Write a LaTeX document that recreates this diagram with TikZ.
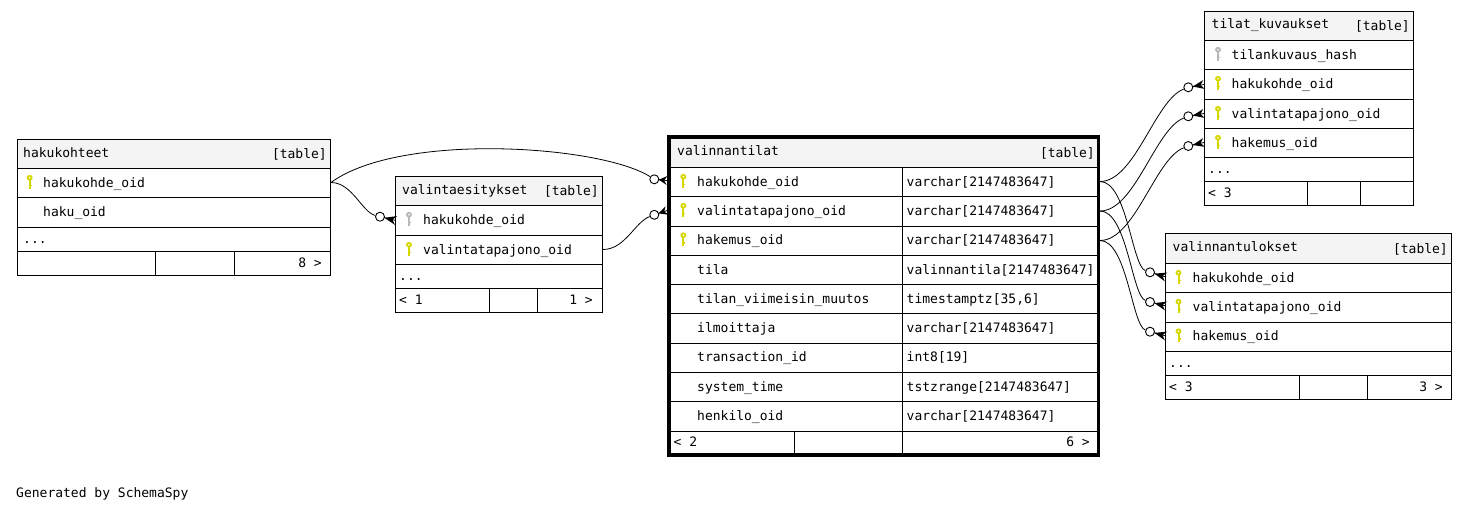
\documentclass[tikz,border=0pt]{standalone}
\usepackage{fontspec}
\setmainfont{DejaVu Sans Mono}
\usetikzlibrary{calc}
\definecolor{hdr}{HTML}{F4F4F4}
\definecolor{pk}{RGB}{215,215,0}
\definecolor{fk}{HTML}{B8B8B8}
\newcommand\tkey[3]{%
  \fill[#3] (#1,#2+9.2) ellipse (3pt and 2.8pt);
  \fill[#3] (#1-1,#2+10) rectangle (#1+1,#2+20);
  \fill[#3] (#1+1,#2+16) rectangle (#1+2,#2+17.5);
  \fill[white] (#1,#2+9.2) circle (0.9pt);
}
\newcommand\crowfoot[2]{%
  \fill ($(#1)!4.5pt!(#2)$) -- ($(#2)!4.5pt!90:(#1)$) -- ($(#1)!0.78!(#2)$) -- ($(#2)!4.5pt!-90:(#1)$) -- cycle;
  \draw[line width=0.8pt] ($(#1)!4.5pt!(#2)$) -- (#2);
}
\tikzset{
  cell/.style={draw=black, line width=1pt},
  txt/.style={inner sep=0pt, anchor=base west, font=\fontsize{13}{15}\selectfont},
  txtr/.style={txt, anchor=base east},
  ring/.style={circle, draw=black, line width=0.9pt, fill=white, minimum size=9pt, inner sep=0pt},
  rel/.style={line width=0.8pt},
}
\begin{document}
\begin{tikzpicture}[x=1pt,y=-1pt]
\useasboundingbox[fill=white] (0,0) rectangle (1467,512);

% ---------------- hakukohteet
\fill[hdr] (17.5,139.5) rectangle (330.5,168.5);
\draw[cell] (17.5,139.5) rectangle (330.5,275.5);
\draw[cell] (17.5,168.5)--(330.5,168.5) (17.5,197.5)--(330.5,197.5)
  (17.5,227.5)--(330.5,227.5) (17.5,251.5)--(330.5,251.5)
  (155.5,251.5)--(155.5,275.5) (234.5,251.5)--(234.5,275.5);
\node[txt] (hkT) at (23,157) {hakukohteet};
\node[txtr] (hkTt) at (327,158.5) {[table]};
\tkey{29.7}{168.5}{pk}
\node[txt] (hkA) at (43,187) {hakukohde\_oid};
\node[txt] (hkB) at (43,216.5) {haku\_oid};
\node[txt] (hkD) at (23,243.5) {...};
\node[txtr] (hkF) at (322,267) {8 >};
\coordinate (hkR) at (331,182.5);

% ---------------- valintaesitykset
\fill[hdr] (395.5,176.5) rectangle (602.5,205.5);
\draw[cell] (395.5,176.5) rectangle (602.5,312.5);
\draw[cell] (395.5,205.5)--(602.5,205.5) (395.5,235.5)--(602.5,235.5)
  (395.5,264.5)--(602.5,264.5) (395.5,288.5)--(602.5,288.5)
  (489.5,288.5)--(489.5,312.5) (537.5,288.5)--(537.5,312.5);
\node[txt] (veT) at (402,194) {valintaesitykset};
\node[txtr] (veTt) at (599,195.5) {[table]};
\tkey{409}{205.5}{fk}
\node[txt] (veA) at (423,224.5) {hakukohde\_oid};
\tkey{409}{235.5}{pk}
\node[txt] (veB) at (423,254) {valintatapajono\_oid};
\node[txt] (veD) at (399,280.5) {...};
\node[txt] (veF1) at (399,304.5) {< 1};
\node[txtr] (veF2) at (593,304.5) {1 >};
\coordinate (veR) at (603,249.5);

% ---------------- valinnantilat
\fill[hdr] (670.5,138.5) rectangle (1096.5,167.5);
\draw[cell] (670.5,167.5)--(1096.5,167.5) (670.5,196.5)--(1096.5,196.5)
  (670.5,226)--(1096.5,226) (670.5,255.5)--(1096.5,255.5)
  (670.5,284.5)--(1096.5,284.5) (670.5,313.5)--(1096.5,313.5)
  (670.5,343)--(1096.5,343) (670.5,372.5)--(1096.5,372.5)
  (670.5,401.5)--(1096.5,401.5) (670.5,431)--(1096.5,431)
  (902.5,167.5)--(902.5,453) (794.5,431)--(794.5,453);
\draw[line width=3.6pt] (668.7,136.7) rectangle (1098.3,455);
\node[txt] (vtT) at (677,155) {valinnantilat};
\node[txtr] (vtTt) at (1095,157) {[table]};
\tkey{683.3}{167.5}{pk}
\tkey{683.3}{196.5}{pk}
\tkey{683.3}{226}{pk}
\node[txt] (vt1) at (697,186) {hakukohde\_oid};
\node[txt] (vt2) at (697,215.3) {valintatapajono\_oid};
\node[txt] (vt3) at (697,244.8) {hakemus\_oid};
\node[txt] (vt4) at (697,274) {tila};
\node[txt] (vt5) at (697,303) {tilan\_viimeisin\_muutos};
\node[txt] (vt6) at (697,332.3) {ilmoittaja};
\node[txt] (vt7) at (697,361.8) {transaction\_id};
\node[txt] (vt8) at (697,391) {system\_time};
\node[txt] (vt9) at (697,420.3) {henkilo\_oid};
\node[txt] (vu1) at (906.5,186) {varchar[2147483647]};
\node[txt] (vu2) at (906.5,215.3) {varchar[2147483647]};
\node[txt] (vu3) at (906.5,244.8) {varchar[2147483647]};
\node[txt] (vu4) at (906.5,274) {valinnantila[2147483647]};
\node[txt] (vu5) at (906.5,303) {timestamptz[35,6]};
\node[txt] (vu6) at (906.5,332.3) {varchar[2147483647]};
\node[txt] (vu7) at (906.5,361.8) {int8[19]};
\node[txt] (vu8) at (906.5,391) {tstzrange[2147483647]};
\node[txt] (vu9) at (906.5,420.3) {varchar[2147483647]};
\node[txt] (vtF1) at (673.5,446.5) {< 2};
\node[txtr] (vtF2) at (1090,446.5) {6 >};
\coordinate (vtR1) at (1100,181.5);
\coordinate (vtR2) at (1100,211);
\coordinate (vtR3) at (1100,240.5);

% ---------------- tilat_kuvaukset
\fill[hdr] (1204.5,11.5) rectangle (1413.5,40.5);
\draw[cell] (1204.5,11.5) rectangle (1413.5,205.5);
\draw[cell] (1204.5,40.5)--(1413.5,40.5) (1204.5,69.5)--(1413.5,69.5)
  (1204.5,99.5)--(1413.5,99.5) (1204.5,128.5)--(1413.5,128.5)
  (1204.5,157.5)--(1413.5,157.5) (1204.5,181.5)--(1413.5,181.5)
  (1307.5,181.5)--(1307.5,205.5) (1360.5,181.5)--(1360.5,205.5);
\node[txt] (tkT) at (1211.5,28.5) {tilat\_kuvaukset};
\node[txtr] (tkTt) at (1410,30) {[table]};
\tkey{1218}{40.5}{fk}
\tkey{1218}{69.5}{pk}
\tkey{1218}{99.5}{pk}
\tkey{1218}{128.5}{pk}
\node[txt] (tk1) at (1231.5,59) {tilankuvaus\_hash};
\node[txt] (tk2) at (1231.5,88.5) {hakukohde\_oid};
\node[txt] (tk3) at (1231.5,118) {valintatapajono\_oid};
\node[txt] (tk4) at (1231.5,147) {hakemus\_oid};
\node[txt] (tkD) at (1208,173.5) {...};
\node[txt] (tkF) at (1208,197.5) {< 3};

% ---------------- valinnantulokset
\fill[hdr] (1165.5,233.5) rectangle (1451.5,263.5);
\draw[cell] (1165.5,233.5) rectangle (1451.5,399.5);
\draw[cell] (1165.5,263.5)--(1451.5,263.5) (1165.5,292.5)--(1451.5,292.5)
  (1165.5,322)--(1451.5,322) (1165.5,351.5)--(1451.5,351.5)
  (1165.5,375.5)--(1451.5,375.5)
  (1299.5,375.5)--(1299.5,399.5) (1367.5,375.5)--(1367.5,399.5);
\node[txt] (vlT) at (1172.5,251.5) {valinnantulokset};
\node[txtr] (vlTt) at (1448,253) {[table]};
\tkey{1178.5}{263.5}{pk}
\tkey{1178.5}{292.5}{pk}
\tkey{1178.5}{322}{pk}
\node[txt] (vl1) at (1192.5,282) {hakukohde\_oid};
\node[txt] (vl2) at (1192.5,311.3) {valintatapajono\_oid};
\node[txt] (vl3) at (1192.5,340.8) {hakemus\_oid};
\node[txt] (vlD) at (1169,367.5) {...};
\node[txt] (vlF1) at (1169,391.5) {< 3};
\node[txtr] (vlF2) at (1443,391.5) {3 >};

% ---------------- crow's foot end points
\coordinate (e1) at (667,180.5);
\coordinate (e2) at (396,220.5);
\coordinate (e3) at (667,210.5);
\coordinate (e4) at (1204,84.5);
\coordinate (e5) at (1204,113.5);
\coordinate (e6) at (1204,142.5);
\coordinate (e7) at (1166,277);
\coordinate (e8) at (1166,306);
\coordinate (e9) at (1166,336);

% ---------------- rings
\node[ring] (c1) at (654.3,179.3) {};
\node[ring] (c2) at (380,216.7) {};
\node[ring] (c3) at (654.3,214.8) {};
\node[ring] (c4) at (1188.3,87.3) {};
\node[ring] (c5) at (1188.3,116.3) {};
\node[ring] (c6) at (1188.3,146) {};
\node[ring] (c7) at (1150,272.3) {};
\node[ring] (c8) at (1150,302) {};
\node[ring] (c9) at (1150,331.7) {};

% ---------------- connectors
\draw[rel] (hkR) .. controls (400,132) and (600,145) .. (c1);
\draw[rel] (hkR) .. controls (352,182.5) and (362,212) .. (c2);
\draw[rel] (veR) .. controls (625,249.5) and (635,222) .. (c3);
\draw[rel] (vtR1) .. controls (1135,181.5) and (1155,100) .. (c4);
\draw[rel] (vtR2) .. controls (1135,211) and (1155,129) .. (c5);
\draw[rel] (vtR3) .. controls (1135,240.5) and (1155,158.7) .. (c6);
\draw[rel] (vtR1) .. controls (1127,181.5) and (1132,266) .. (c7);
\draw[rel] (vtR2) .. controls (1127,211) and (1132,296) .. (c8);
\draw[rel] (vtR3) .. controls (1127,240.5) and (1132,325.5) .. (c9);

\crowfoot{c1}{e1}
\crowfoot{c2}{e2}
\crowfoot{c3}{e3}
\crowfoot{c4}{e4}
\crowfoot{c5}{e5}
\crowfoot{c6}{e6}
\crowfoot{c7}{e7}
\crowfoot{c8}{e8}
\crowfoot{c9}{e9}

\node[txt] (gen) at (16,497) {Generated by SchemaSpy};
\end{tikzpicture}
\end{document}
